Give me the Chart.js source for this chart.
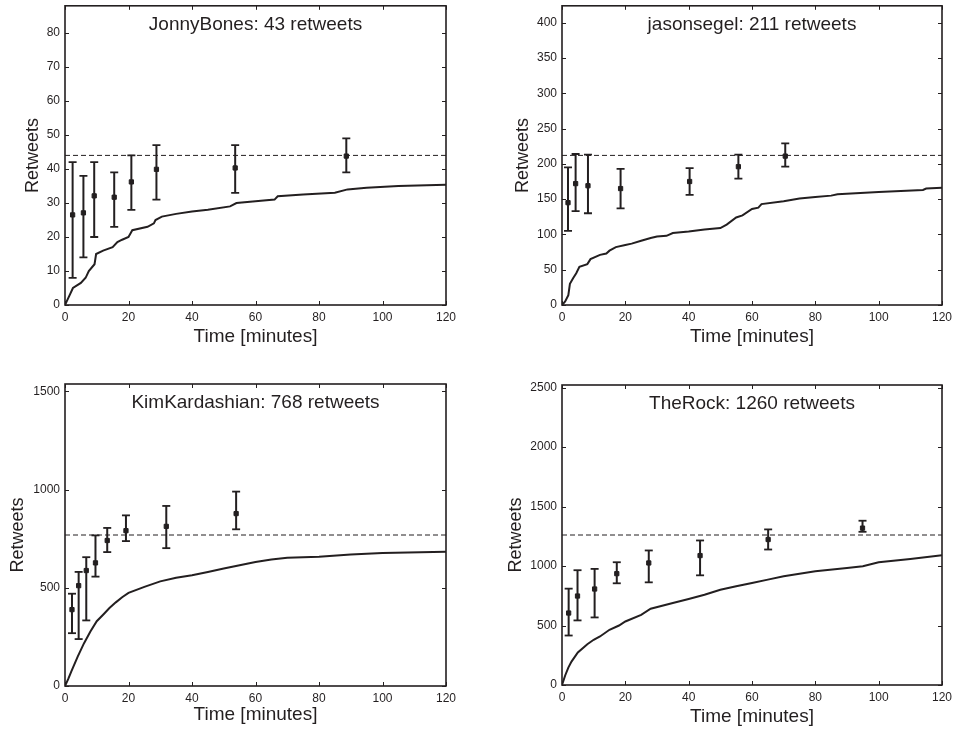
<!DOCTYPE html>
<html>
<head>
<meta charset="utf-8">
<script src="https://cdn.jsdelivr.net/npm/chart.js@4.4.1/dist/chart.umd.min.js"></script>
<style>
  body { margin: 0; background: #fff; }
  canvas { position: absolute; }
</style>
</head>
<body>
<canvas id="c1" width="460" height="350" style="left:0;top:0"></canvas>
<canvas id="c2" width="464" height="350" style="left:490px;top:0"></canvas>
<canvas id="c3" width="460" height="361" style="left:0;top:370px"></canvas>
<canvas id="c4" width="464" height="361" style="left:490px;top:370px"></canvas>
<script>
const xTicks = [0, 20, 40, 60, 80, 100, 120];

// JonnyBones
const jbTitle = 'JonnyBones: 43 retweets';
const jbTime = [0, 0.5, 1.5, 2.5, 5, 6.5, 7.5, 9.3, 9.8, 12, 15, 16.5, 18, 20, 21.2, 26, 28, 28.5, 30.5, 35, 40, 45, 52, 54, 60, 66, 67, 75, 85, 89, 95, 105, 120];
const jbCount = [0, 1, 3, 5, 6.5, 8, 10, 12, 15, 16, 17, 18.5, 19.2, 20, 22, 23, 24, 25, 26, 26.8, 27.5, 28, 29, 30, 30.5, 31, 32, 32.5, 33, 34, 34.5, 35, 35.4];
const jbMeanX = [2.4, 5.8, 9.2, 15.5, 20.9, 28.8, 53.6, 88.6];
const jbMean = [26.5, 27.1, 32.1, 31.7, 36.2, 39.9, 40.3, 43.8];
const jbLow = [8, 14, 20, 23, 28, 31, 33, 39];
const jbHigh = [42, 38, 42, 39, 44, 47, 47, 49];
const jbTotal = 44;
const jbYTicks = [0, 10, 20, 30, 40, 50, 60, 70, 80];

// jasonsegel
const jsTitle = 'jasonsegel: 211 retweets';
const jsTime = [0, 1, 2, 2.5, 3.5, 4.5, 5.5, 8, 9, 12, 14, 15, 17, 20, 22, 25, 28, 30, 33, 35, 40, 45, 50, 52, 55, 57, 60, 62, 63, 70, 75, 80, 85, 87, 100, 114, 115, 120];
const jsCount = [0, 5, 14, 30, 38, 45, 54, 58, 65, 71, 73, 77, 82, 85, 87, 91, 95, 97, 98, 102, 104, 107, 109, 114, 124, 127, 136, 138, 143, 147, 151, 153, 155, 157, 160, 163, 165, 166];
const jsMeanX = [1.9, 4.3, 8.2, 18.5, 40.3, 55.7, 70.5];
const jsMean = [145, 172, 169, 165, 175, 196, 211];
const jsLow = [105, 133, 130, 137, 156, 179, 196];
const jsHigh = [195, 214, 213, 193, 194, 213, 229];
const jsTotal = 212;
const jsYTicks = [0, 50, 100, 150, 200, 250, 300, 350, 400];

// KimKardashian
const kkTitle = 'KimKardashian: 768 retweets';
const kkTime = [0, 1, 2, 4, 6, 8, 10, 12, 14, 16, 18, 20, 25, 30, 35, 40, 45, 50, 55, 60, 65, 70, 80, 90, 100, 120];
const kkCount = [0, 35, 75, 150, 218, 278, 330, 363, 397, 426, 452, 474, 505, 533, 551, 564, 581, 598, 615, 631, 644, 653, 658, 670, 677, 684];
const kkMeanX = [2.2, 4.3, 6.7, 9.6, 13.3, 19.2, 31.9, 53.9];
const kkMean = [389, 511, 588, 627, 741, 791, 813, 878];
const kkLow = [269, 239, 334, 557, 682, 738, 702, 798];
const kkHigh = [470, 581, 656, 767, 805, 869, 917, 990];
const kkTotal = 769;
const kkYTicks = [0, 500, 1000, 1500];

// TheRock
const trTitle = 'TheRock: 1260 retweets';
const trTime = [0, 1, 2, 3, 5, 8, 10, 12, 15, 18, 20, 25, 28, 35, 40, 45, 50, 55, 60, 65, 70, 80, 90, 95, 100, 110, 120];
const trCount = [0, 80, 146, 197, 273, 343, 380, 408, 464, 500, 534, 590, 641, 689, 723, 759, 801, 830, 858, 886, 914, 956, 984, 998, 1032, 1060, 1091];
const trMeanX = [2.1, 4.9, 10.3, 17.3, 27.4, 43.6, 65.1, 94.9];
const trMean = [605, 748, 807, 936, 1026, 1088, 1223, 1319];
const trLow = [416, 543, 568, 855, 863, 922, 1139, 1288];
const trHigh = [810, 965, 976, 1032, 1131, 1215, 1308, 1381];
const trTotal = 1261;
const trYTicks = [0, 500, 1000, 1500, 2000, 2500];

const INK = '#231f20';
const FONT = "'Liberation Sans', Arial, sans-serif";

// box, inward ticks on all sides, and the title inside the plot
const boxPlugin = {
  id: 'box',
  afterDraw(chart, args, opts) {
    const { ctx, chartArea: a, scales } = chart;
    ctx.save();
    ctx.strokeStyle = INK;
    ctx.lineWidth = 1;
    ctx.beginPath();
    scales.x.ticks.forEach(t => {
      const px = Math.round(scales.x.getPixelForValue(t.value)) + 0.5;
      ctx.moveTo(px, a.bottom); ctx.lineTo(px, a.bottom - 4);
      ctx.moveTo(px, a.top); ctx.lineTo(px, a.top + 4);
    });
    scales.y.ticks.forEach(t => {
      const py = Math.round(scales.y.getPixelForValue(t.value)) + 0.5;
      ctx.moveTo(a.left, py); ctx.lineTo(a.left + 4, py);
      ctx.moveTo(a.right, py); ctx.lineTo(a.right - 4, py);
    });
    ctx.stroke();
    ctx.lineWidth = 1.6;
    ctx.strokeRect(a.left, a.top, a.right - a.left, a.bottom - a.top);
    ctx.fillStyle = INK;
    ctx.font = '19px ' + FONT;
    ctx.textAlign = 'center';
    ctx.textBaseline = 'middle';
    ctx.fillText(opts.text, (a.left + a.right) / 2, a.top + 19);
    ctx.restore();
  }
};

function noPad(s) {
  s.paddingTop = 0; s.paddingBottom = 0; s.paddingLeft = 0; s.paddingRight = 0;
}

function panel(id, p) {
  const errData = [];
  p.meanX.forEach((x, i) => {
    errData.push({ x: x, y: p.low[i] }, { x: x, y: p.high[i] }, { x: x, y: null });
  });
  new Chart(document.getElementById(id), {
    type: 'scatter',
    data: {
      datasets: [
        {
          data: p.time.map((t, i) => ({ x: t, y: p.count[i] })),
          showLine: true, borderColor: INK, borderWidth: 2,
          pointRadius: 0, tension: 0
        },
        {
          data: [{ x: 0, y: p.total }, { x: 120, y: p.total }],
          showLine: true, borderColor: INK, borderWidth: 1,
          borderDash: [5, 3], pointRadius: 0
        },
        {
          data: errData, showLine: true, spanGaps: false,
          borderColor: INK, borderWidth: 2,
          pointStyle: 'line', pointRadius: 4, pointBorderWidth: 1.8,
          pointBorderColor: INK
        },
        {
          data: p.meanX.map((x, i) => ({ x: x, y: p.mean[i] })),
          pointStyle: 'rect', pointRadius: 3,
          backgroundColor: INK, borderColor: INK, pointBorderWidth: 1
        }
      ]
    },
    options: {
      responsive: false,
      animation: false,
      events: [],
      layout: { padding: { top: p.padTop, right: p.padRight, left: 0, bottom: 0 } },
      plugins: {
        legend: { display: false },
        tooltip: { enabled: false },
        box: { text: p.title }
      },
      scales: {
        x: {
          type: 'linear', min: 0, max: 120,
          afterBuildTicks: s => { s.ticks = xTicks.map(v => ({ value: v })); },
          afterFit: s => { s.height = p.xAxisH; noPad(s); },
          grid: { display: false, drawTicks: false },
          border: { display: false },
          ticks: { color: INK, padding: 5, font: { family: FONT, size: 12 }, callback: v => String(v) },
          title: {
            display: true, text: 'Time [minutes]', color: INK,
            font: { family: FONT, size: 19 }, padding: { top: 0, bottom: p.xTitlePad }
          }
        },
        y: {
          type: 'linear', min: 0, max: p.total * 2,
          afterBuildTicks: s => { s.ticks = p.yTicks.map(v => ({ value: v })); },
          afterFit: s => { s.width = p.yAxisW; noPad(s); },
          grid: { display: false, drawTicks: false },
          border: { display: false },
          ticks: { color: INK, padding: 5, font: { family: FONT, size: 12 }, callback: v => String(v) },
          title: {
            display: true, text: 'Retweets', color: INK,
            font: { family: FONT, size: 18 }, padding: { top: p.yTitlePad, bottom: 0 }
          }
        }
      }
    },
    plugins: [boxPlugin]
  });
}

panel('c1', {
  title: jbTitle, time: jbTime, count: jbCount, meanX: jbMeanX, mean: jbMean,
  low: jbLow, high: jbHigh, total: jbTotal, yTicks: jbYTicks,
  padTop: 4, padRight: 14, xAxisH: 45, yAxisW: 65, yTitlePad: 22, xTitlePad: 2
});
panel('c2', {
  title: jsTitle, time: jsTime, count: jsCount, meanX: jsMeanX, mean: jsMean,
  low: jsLow, high: jsHigh, total: jsTotal, yTicks: jsYTicks,
  padTop: 4, padRight: 12, xAxisH: 45, yAxisW: 72, yTitlePad: 22, xTitlePad: 2
});
panel('c3', {
  title: kkTitle, time: kkTime, count: kkCount, meanX: kkMeanX, mean: kkMean,
  low: kkLow, high: kkHigh, total: kkTotal, yTicks: kkYTicks,
  padTop: 14, padRight: 14, xAxisH: 45, yAxisW: 65, yTitlePad: 7, xTitlePad: 5
});
panel('c4', {
  title: trTitle, time: trTime, count: trCount, meanX: trMeanX, mean: trMean,
  low: trLow, high: trHigh, total: trTotal, yTicks: trYTicks,
  padTop: 15, padRight: 12, xAxisH: 46, yAxisW: 72, yTitlePad: 15, xTitlePad: 3
});
</script>
</body>
</html>
